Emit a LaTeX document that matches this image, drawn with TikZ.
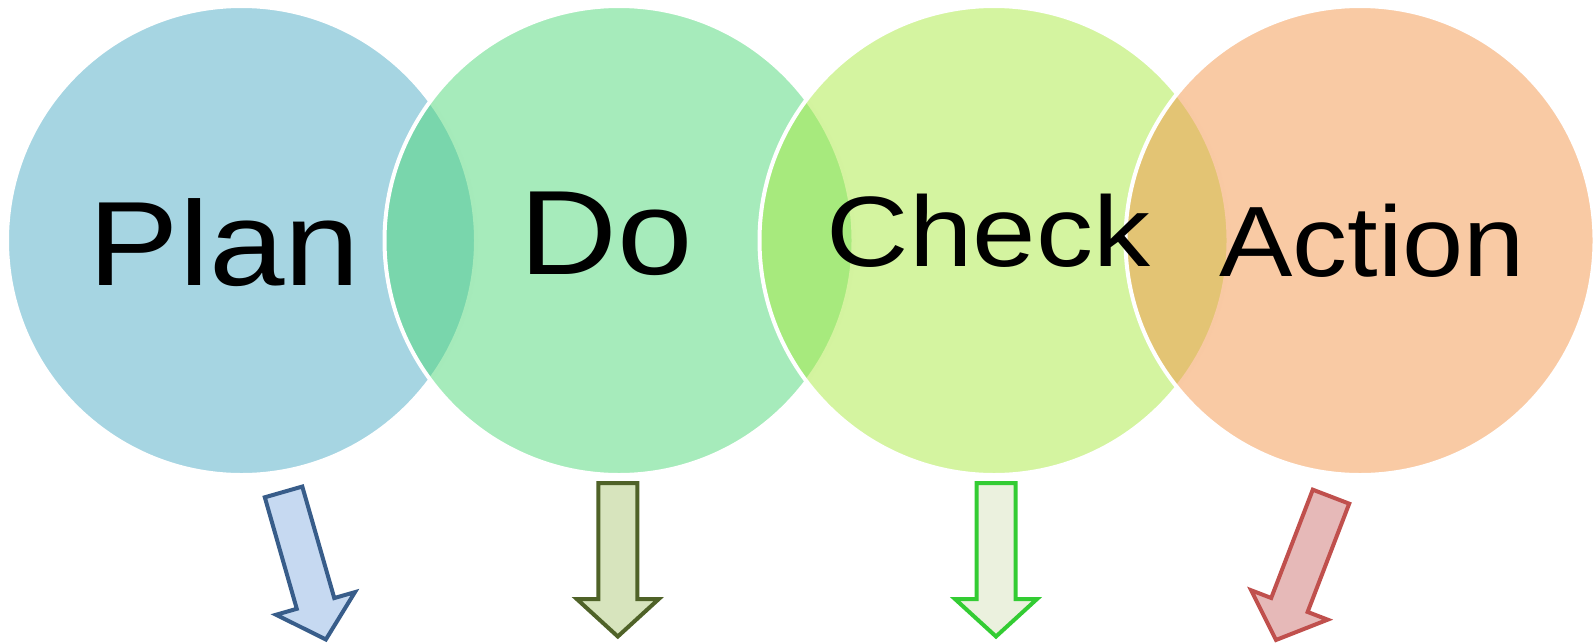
\documentclass[tikz,border=0pt]{standalone}
\usepackage{fontspec}
\setmainfont{Liberation Sans}
\definecolor{cPlan}{RGB}{77,171,197}
\definecolor{cDo}{RGB}{77,215,119}
\definecolor{cCheck}{RGB}{169,233,65}
\definecolor{cAct}{RGB}{243,149,73}
\definecolor{aPlanD}{HTML}{385D8A}
\definecolor{aPlanF}{HTML}{C6D9F1}
\definecolor{aDoD}{HTML}{4F6228}
\definecolor{aDoF}{HTML}{D7E4BD}
\definecolor{aChkD}{HTML}{33CC33}
\definecolor{aChkF}{HTML}{EBF1DE}
\definecolor{aActD}{HTML}{C0504D}
\definecolor{aActF}{HTML}{E6B9B8}
\tikzset{
  phase/.style={circle, minimum size=469*0.75pt, inner sep=0pt, draw=white, line width=3pt, fill opacity=0.5, draw opacity=1},
  big/.style={inner sep=0pt, anchor=base, font=\fontsize{90pt}{90pt}\selectfont},
  mid/.style={inner sep=0pt, anchor=base, font=\fontsize{75pt}{75pt}\selectfont},
  fatarrow/.pic={
    \path[pic actions, line width=3pt, line join=miter]
      (-19.5,2) -- (19.5,2) -- (19.5,118) -- (41,118) -- (0,155.5)
      -- (-41,118) -- (-19.5,118) -- cycle;
  }
}
\begin{document}
\begin{tikzpicture}[x=0.75pt, y=-0.75pt]
\useasboundingbox (0,0) rectangle (1595,643);
\node[phase, fill=cPlan]  (plan)  at (241.5,240.5) {};
\node[phase, fill=cDo]    (do)    at (619,240.5) {};
\node[phase, fill=cCheck] (check) at (994,240.5) {};
\node[phase, fill=cAct]   (act)   at (1360,240.5) {};
\node[big] (tplan) at (224.5,285) {\scalebox{1.13}[1]{Plan}};
\node[big] (tdo) at (606,274) {\scalebox{1.13}[1]{Do}};
\node[mid] (tcheck) at (988.5,266) {\scalebox{1.14}[1]{Check}};
\node[mid] (tact) at (1372,276) {\scalebox{1.1}[1]{Action}};
\pic[draw=aPlanD, fill=aPlanF, rotate=16] at (283,490) {fatarrow};
\pic[draw=aDoD, fill=aDoF] at (617.8,481) {fatarrow};
\pic[draw=aChkD, fill=aChkF] at (996,481) {fatarrow};
\pic[draw=aActD, fill=aActF, rotate=-21] at (1331.7,494.8) {fatarrow};
\end{tikzpicture}
\end{document}
